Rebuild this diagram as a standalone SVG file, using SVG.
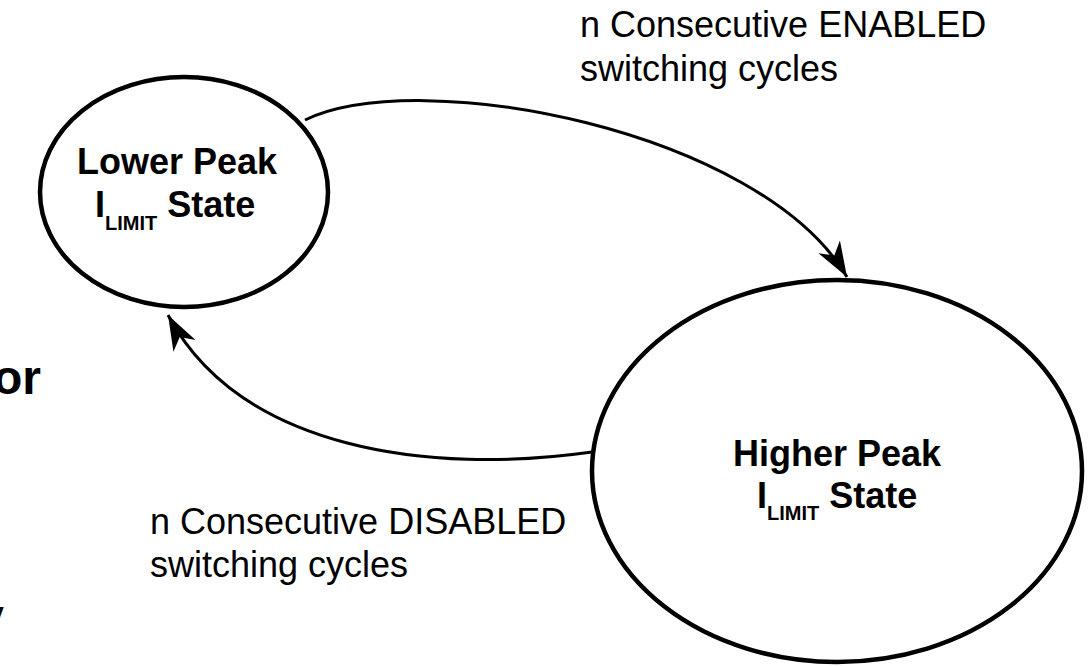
<svg xmlns="http://www.w3.org/2000/svg" width="1090" height="666" viewBox="0 0 1090 666">
  <style>
    .state { fill: #ffffff; stroke: #000000; stroke-width: 4.5; }
    .conn { fill: none; stroke: #000000; stroke-width: 3; }
    .title { font-family: "Liberation Sans", Arial, sans-serif; font-weight: bold; font-size: 36px; fill: #000000; }
    .sub { font-size: 20px; }
    .label { font-family: "Liberation Sans", Arial, sans-serif; font-size: 36px; fill: #000000; }
    .frag { font-family: "Liberation Sans", Arial, sans-serif; font-weight: bold; font-size: 48px; fill: #000000; }
  </style>
  <defs>
    <marker id="arrow" markerUnits="userSpaceOnUse" markerWidth="40" markerHeight="30" viewBox="-30 -12 32 24" refX="0" refY="0" orient="auto">
      <path d="M0,0 L-28,-10 L-20,0 L-28,10 Z" fill="#000000"/>
    </marker>
  </defs>
  <rect width="1090" height="666" fill="#ffffff"/>

  <g id="fragments">
    <text class="frag" x="41" y="394" text-anchor="end">or</text>
    <text class="frag" x="4" y="633" text-anchor="end">y</text>
  </g>

  <g id="connectors">
    <path class="conn" d="M305,120 C420,65 760,130 847,277" marker-end="url(#arrow)"/>
    <path class="conn" d="M592,452 C430,475 240,450 168,315" marker-end="url(#arrow)"/>
  </g>

  <g id="lower-state">
    <ellipse class="state" cx="184" cy="192" rx="144" ry="115"/>
    <text class="title" x="177" y="174" text-anchor="middle">Lower Peak</text>
    <text class="title" x="95" y="217">I<tspan class="sub" dy="13">LIMIT</tspan><tspan dy="-13"> State</tspan></text>
  </g>

  <g id="higher-state">
    <ellipse class="state" cx="837" cy="471" rx="245" ry="191"/>
    <text class="title" x="837" y="466" text-anchor="middle">Higher Peak</text>
    <text class="title" x="757" y="508">I<tspan class="sub" dy="12">LIMIT</tspan><tspan dy="-12"> State</tspan></text>
  </g>

  <g id="labels">
    <text class="label" x="580" y="37">n Consecutive ENABLED</text>
    <text class="label" x="580" y="81">switching cycles</text>
    <text class="label" x="150" y="534">n Consecutive DISABLED</text>
    <text class="label" x="150" y="577">switching cycles</text>
  </g>
</svg>
